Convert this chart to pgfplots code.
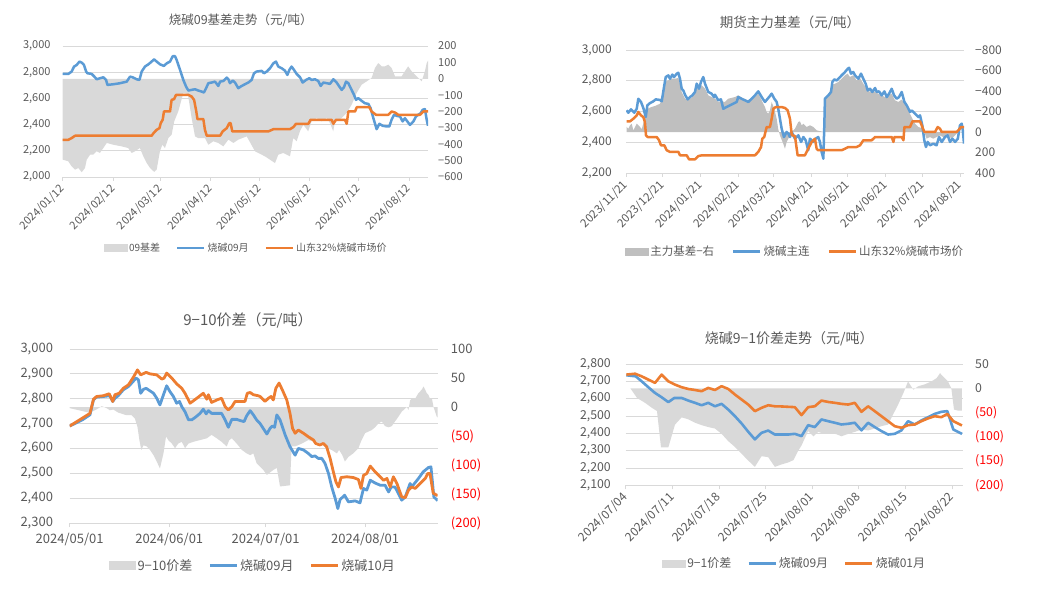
\documentclass[border=0pt]{standalone}
\usepackage{fontspec}
\setmainfont{Noto Sans CJK SC}
\usepackage{pgfplots}
\pgfplotsset{compat=1.18}
\definecolor{txt}{HTML}{595959}
\definecolor{gridc}{HTML}{D9D9D9}
\definecolor{ablue}{HTML}{5B9BD5}
\definecolor{aorange}{HTML}{ED7D31}
\definecolor{agray}{HTML}{D9D9D9}
\definecolor{agrayB}{HTML}{BFBFBF}
\definecolor{neg}{HTML}{FF0000}
\newcommand\fs[1]{\fontsize{#1}{#1}\selectfont}
\pgfplotsset{
 gridax/.style={scale only axis, anchor=south west,
   axis x line*=bottom, axis y line*=left,
   x axis line style={-, draw=gridc, line width=0.8pt},
   y axis line style={draw=none},
   xtick style={draw=gridc, line width=0.8pt},
   ytick style={draw=none},
   tick align=outside, major tick length=4pt,
   ymajorgrids, grid style={draw=gridc, line width=0.8pt},
   yticklabel style={text=txt, inner sep=0pt, anchor=east},
   xticklabel style={text=txt},
   title style={text=txt},
   /pgf/number format/assume math mode=true},
 rightax/.style={scale only axis, anchor=south west, axis x line=none, axis y line*=right,
   y axis line style={draw=none}, ytick style={draw=none},
   yticklabel style={text=txt, inner sep=0pt, anchor=west},
   /pgf/number format/assume math mode=true},
 lineax/.style={scale only axis, anchor=south west, hide axis,
   legend image code/.code={\draw[##1] (0pt,0pt) -- (27pt,0pt);},
   legend style={draw=none, fill=none, anchor=center, text=txt},
   legend columns=3},
}
\begin{document}
\begin{tikzpicture}
\path[use as bounding box] (0pt,0pt) rectangle (1039pt,598pt);

% ================= Chart 1 =================
\begin{axis}[gridax, at={(62.7pt,421pt)}, width=365.3pt, height=131pt,
  xmin=0, xmax=224.7, ymin=2000, ymax=3000,
  xtick={0,31,60,91,121,152,182,213},
  xticklabels={2024/01/12,2024/02/12,2024/03/12,2024/04/12,2024/05/12,2024/06/12,2024/07/12,2024/08/12},
  xticklabel style={font=\fs{11}, inner sep=0pt, yshift=-6pt, rotate=45, anchor=east},
  ytick={2000,2200,...,3000},
  yticklabels={{2,000},{2,200},{2,400},{2,600},{2,800},{3,000}},
  yticklabel style={font=\fs{11}, xshift=-8pt},
  title={烧碱09基差走势（元/吨）},
  title style={font=\fs{12.5}, at={(0.5,1)}, anchor=center, yshift=20pt, xshift=-4.6pt}]
\end{axis}
\begin{axis}[rightax, at={(62.7pt,421pt)}, width=365.3pt, height=131pt,
  xmin=0, xmax=224.7, ymin=-600, ymax=200,
  ytick={-600,-500,...,200},
  yticklabels={−600,−500,−400,−300,−200,−100,0,100,200},
  yticklabel style={font=\fs{11}, xshift=10pt}]
\addplot[fill=agray, draw=none] coordinates {(0,-494)(3.4,-504)(5.5,-535)(7.6,-555)(9.6,-545)(11.7,-571)(13.7,-545)(14.8,-494)(16.8,-464)(18.8,-464)(20.9,-443)(22.9,-453)(25,-423)(27.1,-392)(31.1,-403)(36.3,-413)(40.3,-423)(42.4,-453)(44.5,-443)(47.5,-423)(49.6,-474)(51.7,-515)(53.7,-545)(56.3,-569)(57.8,-555)(59.8,-443)(61.3,-403)(62.9,-423)(65,-362)(67,-342)(68.6,-260)(71.1,-199)(74.2,-87)(77,-93)(79.3,-240)(81.4,-352)(83.4,-362)(87.5,-362)(89.6,-403)(92.6,-382)(95.7,-392)(98.8,-413)(101.9,-372)(105,-392)(108,-372)(113.2,-352)(118.3,-443)(124.4,-474)(130.6,-515)(132.6,-464)(135.7,-453)(139.8,-474)(141.8,-362)(143.9,-382)(145.9,-321)(148,-281)(151,-321)(153.1,-260)(156.2,-240)(159.3,-260)(162.4,-240)(164.4,-270)(166.4,-321)(167.5,-260)(171.6,-240)(174.7,-209)(177.7,-159)(180.8,-87)(183.9,-36)(187,-16)(190,5)(192.1,66)(194.1,96)(196.2,76)(198.2,76)(200.3,86)(202.3,66)(204.4,15)(208.5,15)(210.5,46)(212.5,76)(214.6,46)(216.7,25)(218.7,5)(220.8,-16)(222.8,46)(223.9,96)(224.7,110)} \closedcycle;
\end{axis}
\begin{axis}[lineax, at={(62.7pt,421pt)}, width=365.3pt, height=131pt,
  xmin=0, xmax=224.7, ymin=2000, ymax=3000,
  legend style={at={(0.502,-0.542)}, font=\fs{10}, /tikz/every even column/.append style={column sep=14pt}}]
\addlegendimage{legend image code/.code={\fill[agray] (0pt,-3.5pt) rectangle (23pt,3.5pt);}}
\addlegendentry{09基差}
\addplot[ablue, line width=2.5pt, line join=round] coordinates {(0,2787)(3.5,2787)(5.5,2805)(7,2843)(8.6,2855)(10.3,2881)(11.7,2873)(13.1,2855)(14.4,2805)(15.2,2792)(17.8,2787)(19.5,2766)(20.9,2746)(23,2754)(25,2761)(26.7,2741)(27.5,2703)(31.2,2708)(35.3,2716)(39.4,2728)(41.4,2766)(43,2761)(45.5,2746)(47.2,2741)(48.6,2805)(50.6,2843)(52.7,2860)(54.7,2881)(56.2,2898)(57.8,2881)(59.9,2860)(62.3,2848)(64,2868)(66,2881)(67.7,2922)(69.1,2922)(70.1,2893)(72.2,2817)(74.2,2741)(75.9,2690)(77.3,2660)(79.3,2665)(81.4,2670)(83.4,2660)(85.5,2652)(86.9,2645)(88.2,2678)(89.6,2716)(91.6,2721)(93.7,2728)(95.7,2695)(96.8,2728)(98.8,2733)(100.9,2759)(101.9,2746)(102.9,2716)(104.6,2736)(106,2721)(108,2678)(110.1,2695)(112.1,2708)(114.2,2721)(116.2,2741)(117.7,2792)(119.3,2805)(122.4,2810)(123.8,2792)(125.5,2805)(127.5,2830)(129.6,2868)(131.2,2881)(132.6,2843)(134.7,2830)(136.7,2812)(138.2,2779)(139.4,2817)(140.8,2843)(142.3,2817)(143.9,2787)(146,2761)(147.6,2721)(149.7,2741)(151.7,2754)(153.1,2741)(155.2,2746)(157.2,2733)(158.7,2695)(160.3,2721)(162.4,2716)(164.4,2711)(166.5,2746)(168.5,2721)(170.2,2690)(171.6,2665)(173,2685)(174.3,2728)(175.7,2716)(177.7,2665)(179.2,2627)(180.4,2589)(181.8,2602)(183.9,2581)(185.9,2563)(188,2558)(189.4,2525)(191.1,2449)(193.1,2365)(194.8,2406)(196.8,2391)(199.3,2386)(200.9,2386)(202.3,2437)(203.8,2475)(205.4,2467)(207.5,2462)(209.1,2424)(210.5,2449)(212,2424)(213.6,2398)(215.7,2424)(217.3,2462)(218.7,2475)(220.2,2487)(221.4,2513)(222.8,2518)(223.9,2437)(224.7,2391)};
\addlegendentry{烧碱09月}
\addplot[aorange, line width=2.5pt, line join=round] coordinates {(0,2284)(3.5,2284)(5.5,2297)(7.6,2315)(54.7,2315)(56.2,2340)(57.8,2360)(59.5,2373)(60.3,2411)(61.5,2437)(62.3,2500)(66,2500)(67,2589)(68.5,2594)(69.7,2627)(77.3,2627)(79.3,2614)(80.8,2589)(82,2513)(82.9,2442)(86.5,2442)(87.5,2360)(88.6,2315)(96.8,2315)(98.4,2348)(100.9,2373)(102.5,2411)(103.3,2411)(104.3,2348)(126.5,2348)(129.6,2365)(139.8,2365)(141.9,2381)(143.5,2406)(151.1,2406)(152.5,2437)(165.4,2437)(166.5,2406)(168.1,2437)(173.6,2437)(174.7,2406)(175.7,2500)(179.8,2500)(180.9,2533)(188.6,2533)(190,2500)(192.7,2475)(200.3,2475)(202.3,2500)(204.4,2492)(206.4,2475)(219.8,2475)(221.8,2500)(224.7,2500)};
\addlegendentry{山东32\%烧碱市场价}
\end{axis}

% ================= Chart 2 =================
\begin{axis}[gridax, at={(626pt,425pt)}, width=338pt, height=123pt,
  xmin=0, xmax=277.3, ymin=2200, ymax=3000,
  xtick={0,30,61,92,121,152,182,213,243,274},
  xticklabels={2023/11/21,2023/12/21,2024/01/21,2024/02/21,2024/03/21,2024/04/21,2024/05/21,2024/06/21,2024/07/21,2024/08/21},
  xticklabel style={font=\fs{11.5}, inner sep=0pt, yshift=-6pt, rotate=45, anchor=east},
  ytick={2200,2400,...,3000},
  yticklabels={{2,200},{2,400},{2,600},{2,800},{3,000}},
  yticklabel style={font=\fs{12}, xshift=-10pt},
  title={期货主力基差（元/吨）},
  title style={font=\fs{13.5}, at={(0.5,1)}, anchor=center, yshift=20.7pt, xshift=-5pt}]
\end{axis}
\begin{axis}[rightax, at={(626pt,425pt)}, width=338pt, height=123pt,
  xmin=0, xmax=277.3, ymin=-800, ymax=400, y dir=reverse,
  ytick={-800,-600,...,400},
  yticklabels={−800,−600,−400,−200,0,200,400},
  yticklabel style={font=\fs{12}, xshift=11pt}]
\addplot[fill=agrayB, draw=none] coordinates {(0.6,-49)(1.9,-33)(3.3,-65)(4.7,-81)(6,-16)(8.8,-81)(11.5,-49)(12.9,-27)(15.6,-146)(17.5,-227)(21,-244)(23.8,-254)(27.9,-276)(30.6,-358)(32,-488)(34.7,-504)(37.4,-520)(40.2,-520)(42.9,-527)(44.3,-472)(45.7,-390)(48.4,-325)(51.1,-309)(54.4,-341)(56.6,-390)(59.3,-439)(62.1,-456)(64.8,-423)(67.5,-358)(70.3,-341)(73,-325)(75.7,-293)(78.5,-300)(81.2,-293)(83.9,-325)(89.4,-341)(92.1,-358)(96.2,-325)(100.3,-309)(105.8,-341)(108.5,-374)(111.3,-309)(114,-244)(115.4,-195)(116.7,-179)(118.1,-211)(119.5,-293)(121.6,-227)(123.6,-130)(124.9,-27)(126.3,33)(129,114)(130.4,163)(131.8,98)(133.2,66)(135.9,0)(138.6,-33)(141.4,-98)(142.7,-104)(144.1,-65)(145.5,-81)(148.2,-49)(150.9,-65)(153.7,-49)(155,-33)(156.4,-16)(160.5,-5)(162.7,0)(163.8,-325)(166,-341)(168.7,-456)(171.5,-472)(174.2,-488)(176.9,-520)(179.6,-553)(181.8,-569)(183.7,-537)(186.5,-553)(189.2,-504)(191.9,-527)(194.7,-472)(197.4,-423)(200.2,-390)(202.1,-407)(204.3,-390)(207,-374)(209.7,-358)(212.5,-341)(215.2,-358)(217.9,-374)(220.7,-309)(223.4,-293)(226.1,-316)(228.9,-276)(231.6,-211)(234.3,-146)(237.1,-81)(239.8,-49)(242.5,-39)(244.7,-5)(246.6,65)(249.4,49)(252.1,65)(254.8,49)(257.6,33)(260.3,49)(264.4,33)(267.1,65)(269.9,33)(272.6,0)(275.3,5)(277.3,0)} \closedcycle;
\end{axis}
\begin{axis}[lineax, at={(626pt,425pt)}, width=338pt, height=123pt,
  xmin=0, xmax=277.3, ymin=2200, ymax=3000,
  legend style={at={(0.5,-0.64)}, font=\fs{11.5}, /tikz/every even column/.append style={column sep=16pt}}]
\addlegendimage{legend image code/.code={\fill[agrayB] (0pt,-3.5pt) rectangle (23pt,3.5pt);}}
\addlegendentry{主力基差−右}
\addplot[ablue, line width=2.5pt, line join=round] coordinates {(0.5,2608)(1.9,2592)(4.1,2614)(6.8,2592)(8.8,2618)(10.1,2683)(12.3,2662)(14.2,2623)(16.2,2564)(17.5,2640)(19.7,2655)(22.4,2666)(24.4,2679)(27.9,2675)(29.3,2666)(31.4,2770)(32.6,2824)(34.7,2835)(36.1,2813)(38,2840)(39.4,2824)(41.6,2846)(42.9,2852)(44.3,2813)(45.7,2748)(47,2737)(48.4,2709)(50.6,2679)(52.5,2694)(54.4,2705)(56.6,2727)(58,2781)(59.9,2748)(61.5,2792)(63.4,2824)(64.8,2781)(67.5,2727)(70.2,2716)(72.2,2694)(73,2709)(75.7,2673)(77.9,2679)(79.8,2618)(82.5,2629)(85.3,2640)(88,2651)(90.8,2662)(92.1,2694)(94.8,2683)(97.5,2673)(100.3,2662)(103,2683)(105.8,2705)(108.5,2731)(111.3,2694)(114,2662)(116.2,2683)(118.1,2701)(119.5,2716)(121.7,2683)(123.6,2662)(124.9,2618)(126.3,2553)(127.7,2488)(129.6,2434)(131.8,2467)(133.2,2456)(134.5,2434)(135.9,2467)(138.6,2423)(141.4,2445)(143.6,2402)(145.5,2434)(147.4,2413)(149.5,2348)(150.9,2423)(153.6,2402)(155.5,2423)(157.7,2434)(159.1,2402)(160.5,2337)(161.9,2293)(162.7,2510)(163.2,2683)(166,2705)(168.2,2727)(169.3,2792)(170.9,2809)(172.8,2802)(174.2,2813)(176.9,2835)(179.7,2857)(181.9,2878)(183,2884)(184.6,2846)(186.5,2857)(187.9,2835)(190.6,2813)(192.8,2846)(194.7,2813)(196.6,2781)(198.3,2737)(200.2,2748)(202.1,2727)(204.3,2753)(205.7,2727)(207.6,2731)(209.8,2705)(212,2731)(213.9,2694)(215.8,2716)(218,2748)(219.9,2705)(222.1,2683)(224,2694)(226.2,2727)(228.4,2662)(230.3,2640)(231.7,2618)(233,2597)(234.4,2607)(237.1,2586)(239.8,2564)(241.2,2575)(243.1,2510)(244.7,2413)(246.1,2369)(247.5,2402)(249.4,2380)(252.1,2391)(254.8,2380)(256.8,2434)(259,2402)(261.7,2434)(263.9,2445)(265.8,2402)(267.8,2423)(270,2402)(272.2,2423)(274,2510)(275.4,2521)(276.3,2478)(277.3,2391)};
\addlegendentry{烧碱主连}
\addplot[aorange, line width=2.5pt, line join=round] coordinates {(0.5,2536)(3.3,2536)(6,2553)(8.8,2575)(10.1,2597)(12.3,2575)(14.2,2564)(15.5,2532)(16.4,2445)(17.8,2434)(25.2,2434)(27.1,2413)(28.7,2380)(31.4,2380)(33.4,2348)(36.1,2337)(43,2337)(44.3,2315)(49.8,2315)(51.7,2289)(56.6,2289)(59.4,2310)(62.1,2315)(105.8,2315)(108.5,2337)(110.8,2369)(111.8,2423)(113.4,2434)(115.4,2499)(118.1,2499)(119.5,2553)(120.9,2618)(122.8,2629)(127.7,2629)(130.4,2623)(132.6,2608)(134.5,2553)(136,2447)(138.6,2440)(140.8,2315)(146.8,2315)(149.5,2358)(152.3,2402)(155,2423)(156.4,2358)(157.7,2348)(176.9,2348)(179.7,2358)(182.4,2369)(189.2,2369)(192,2380)(194.7,2413)(201.6,2413)(204.3,2434)(218,2434)(219.4,2402)(220.2,2434)(226.2,2434)(227.6,2413)(228.4,2499)(233,2499)(235,2536)(241.2,2536)(242.6,2510)(244.7,2467)(253.5,2467)(255.7,2499)(257.6,2488)(259,2467)(271.3,2467)(272.7,2478)(274.9,2499)(277.3,2499)};
\addlegendentry{山东32\%烧碱市场价}
\end{axis}

% ================= Chart 3 =================
\begin{axis}[gridax, at={(69.7pt,75pt)}, width=368pt, height=174pt,
  xmin=0, xmax=114.6, ymin=2300, ymax=3000,
  xtick={0,31,61,92},
  xticklabels={2024/05/01,2024/06/01,2024/07/01,2024/08/01},
  xticklabel style={font=\fs{13}, inner sep=0pt, anchor=north, yshift=-6pt},
  ytick={2300,2400,...,3000},
  yticklabels={{2,300},{2,400},{2,500},{2,600},{2,700},{2,800},{2,900},{3,000}},
  yticklabel style={font=\fs{13}, xshift=-12.5pt},
  title={9−10价差（元/吨）},
  title style={font=\fs{15}, at={(0.5,1)}, anchor=center, yshift=22.3pt, xshift=-5.7pt}]
\end{axis}
\begin{axis}[rightax, at={(69.7pt,75pt)}, width=368pt, height=174pt,
  xmin=0, xmax=114.6, ymin=-200, ymax=100,
  ytick={-200,-150,...,100},
  yticklabels={{\color{neg}(200)},{\color{neg}(150)},{\color{neg}(100)},{\color{neg}(50)},0,50,100},
  yticklabel style={font=\fs{13}, xshift=13pt}]
\addplot[fill=agray, draw=none] coordinates {(0,-2)(6.3,-10)(8.4,-4)(10,1.4)(11.5,-2)(12.5,-5.6)(13.6,-4.4)(15.1,-9.6)(16.7,-12.5)(17.7,-14.2)(19.3,-14.2)(20.3,-20)(21.1,-34)(21.7,-57)(22.3,-74)(23,-66)(24,-68)(25,-74)(26.1,-83)(27.1,-94)(28.1,-106)(29.2,-80)(30,-51)(30.7,-57)(31.8,-63)(32.8,-71)(33.8,-63)(34.9,-60)(35.9,-71)(37,-63)(38.5,-60)(40.6,-57)(42.7,-54)(44.2,-48)(45.8,-54)(47.3,-60)(48.9,-68)(49.7,-57)(50.5,-54)(52,-63)(53.6,-74)(55.1,-80)(56.2,-83)(57.2,-80)(58.2,-97)(59.3,-103)(60.3,-108.6)(61.4,-117)(63.4,-108.6)(64.5,-105)(65.5,-137)(68.6,-135)(69.1,-68)(70.2,-68)(72.3,-63)(74.3,-57)(76.4,-60)(78.5,-63)(80,-71)(81.6,-74)(83.2,-80)(83.9,-74)(84.9,-83)(85.7,-94)(86.8,-86)(88.3,-80)(89.9,-71)(90.9,-57)(92,-45)(93,-42.5)(94.1,-39.6)(95.1,-35)(96.2,-28)(97.2,-25)(98.2,-33)(99.3,-35)(100.3,-33)(101.3,-25)(102.4,-16.5)(103.4,-8)(105,0)(105.5,-5)(106,11.5)(106.5,14.5)(107.6,14.5)(108.6,24)(109.6,29.6)(110.2,35.4)(110.7,29.6)(111.2,24)(111.7,21)(112.2,14.5)(112.8,14.5)(113.3,0)(114.3,-16.5)(114.6,-18)} \closedcycle;
\end{axis}
\begin{axis}[lineax, at={(69.7pt,75pt)}, width=368pt, height=174pt,
  xmin=0, xmax=114.6, ymin=2300, ymax=3000,
  legend style={at={(0.498,-0.245)}, font=\fs{13}, /tikz/every even column/.append style={column sep=14pt}}]
\addlegendimage{legend image code/.code={\fill[agray] (0pt,-4pt) rectangle (26pt,4pt);}}
\addlegendentry{9−10价差}
\addplot[ablue, line width=2.8pt, line join=round] coordinates {(0,2690)(2.2,2704)(4.2,2717)(5.8,2731)(6.3,2735)(7.4,2795)(8.2,2806)(10.5,2809)(12.5,2812)(13.4,2789)(14.1,2802)(15.1,2812)(16.7,2836)(18.3,2849)(19.3,2863)(20.7,2883)(21.4,2876)(22.1,2822)(23,2838)(23.8,2842)(24.5,2836)(26.1,2822)(27.1,2802)(28.1,2775)(29.2,2816)(30.2,2852)(31.2,2829)(32.3,2809)(33.3,2782)(34.2,2789)(34.9,2768)(35.9,2748)(37,2715)(38,2715)(39.1,2725)(40.6,2741)(41.6,2758)(42.5,2739)(43.2,2752)(44.2,2741)(45.8,2741)(47.3,2741)(48.4,2715)(49.4,2685)(50.5,2717)(52,2717)(53.1,2712)(54.3,2708)(55.1,2731)(56.2,2752)(57.2,2735)(58.2,2715)(59.3,2700)(61.4,2658)(62.4,2681)(63.1,2690)(63.8,2685)(64.5,2735)(65.5,2715)(67.1,2654)(68.6,2607)(70.2,2573)(71.2,2600)(72.8,2594)(74.3,2580)(75.4,2567)(76.4,2570)(77.4,2560)(78.5,2560)(79.5,2540)(80.6,2499)(81.6,2445)(82.7,2398)(83.5,2358)(84.2,2394)(85.6,2412)(86.8,2385)(88.9,2389)(90.4,2381)(91.5,2439)(92.5,2432)(93.6,2472)(95.1,2461)(96.7,2452)(98.2,2452)(99.3,2425)(100.1,2445)(101.3,2445)(102.4,2418)(103.4,2392)(104.5,2405)(106,2459)(106.5,2445)(108.6,2479)(110.1,2506)(111.7,2523)(112.5,2526)(113.4,2405)(114.6,2390)};
\addlegendentry{烧碱09月}
\addplot[aorange, line width=2.8pt, line join=round] coordinates {(0,2690)(6.3,2741)(7.4,2798)(8.4,2809)(10.5,2812)(12.3,2820)(13.4,2789)(14.1,2816)(15.4,2822)(16.7,2842)(18.3,2856)(20,2890)(21.1,2916)(22.1,2896)(23.8,2906)(25,2900)(27.1,2896)(28.7,2879)(29.4,2883)(30.2,2903)(31.8,2883)(33.3,2860)(34.9,2842)(35.9,2822)(37.5,2782)(39.6,2802)(41.6,2822)(42.7,2798)(43.2,2816)(44.2,2785)(45.8,2795)(47.3,2802)(48.4,2768)(49.4,2755)(50.5,2768)(51.5,2789)(54.6,2789)(55.3,2822)(56.2,2825)(57.2,2816)(58.7,2812)(59.3,2809)(60.8,2789)(61.9,2802)(62.7,2809)(63.4,2795)(64.2,2842)(65.2,2863)(66.2,2836)(67.6,2795)(68.6,2741)(69.4,2681)(70.2,2661)(71.2,2674)(72.8,2661)(74.3,2647)(75.9,2634)(76.6,2620)(77.9,2614)(79,2620)(80,2607)(81.1,2560)(82.1,2506)(82.9,2466)(83.7,2445)(84.5,2483)(86.3,2486)(88.3,2483)(89.9,2475)(90.7,2439)(91.5,2492)(92.5,2499)(93.6,2529)(95.1,2506)(96.7,2486)(97.7,2472)(98.8,2479)(99.8,2445)(100.8,2486)(101.9,2459)(103.4,2405)(104.5,2402)(105.5,2432)(106.5,2445)(107.6,2439)(109.1,2459)(110.7,2479)(111.5,2499)(112.2,2499)(113.2,2420)(114.6,2410)};
\addlegendentry{烧碱10月}
\end{axis}

% ================= Chart 4 =================
\begin{axis}[gridax, at={(625.7pt,112.7pt)}, width=337.6pt, height=121.3pt,
  xmin=0, xmax=50.7, ymin=2100, ymax=2800,
  xtick={0,7,14,21,28,35,42,49},
  xticklabels={2024/07/04,2024/07/11,2024/07/18,2024/07/25,2024/08/01,2024/08/08,2024/08/15,2024/08/22},
  xticklabel style={font=\fs{12}, inner sep=0pt, yshift=-6pt, rotate=45, anchor=east},
  ytick={2100,2200,...,2800},
  yticklabels={{2,100},{2,200},{2,300},{2,400},{2,500},{2,600},{2,700},{2,800}},
  yticklabel style={font=\fs{12.3}, xshift=-10.7pt},
  title={烧碱9−1价差走势（元/吨）},
  title style={font=\fs{14}, at={(0.5,1)}, anchor=center, yshift=19.7pt, xshift=-5.2pt}]
\end{axis}
\begin{axis}[rightax, at={(625.7pt,112.7pt)}, width=337.6pt, height=121.3pt,
  xmin=0, xmax=50.7, ymin=-200, ymax=50,
  ytick={-200,-150,...,50},
  yticklabels={{\color{neg}(200)},{\color{neg}(150)},{\color{neg}(100)},{\color{neg}(50)},0,50},
  yticklabel style={font=\fs{12.3}, xshift=11.7pt}]
\addplot[fill=agray, draw=none] coordinates {(0.7,0)(1.7,-20)(2.9,-30)(3.9,-40)(4.7,-47)(5.3,-122)(6.4,-122)(7.4,-75)(8.4,-60)(9.4,-64)(10.4,-71)(11.4,-76)(12.4,-80)(13.4,-83)(14.4,-94)(15.4,-109)(16.4,-121)(17.4,-135)(18.4,-149)(19.4,-162)(20.4,-140)(21.4,-142)(22.4,-162)(23.4,-157)(24.4,-153)(25.2,-148)(25.9,-129)(26.4,-118)(27.4,-88)(28.2,-99)(28.9,-90)(29.9,-94)(30.9,-92)(31.7,-95)(32.4,-99)(33.4,-94)(34.4,-90)(35.4,-85)(36.4,-87)(37.4,-83)(38.4,-78)(39.4,-75)(39.9,-61)(40.9,-34)(41.7,-10)(42.4,14)(43.2,-3)(43.9,4)(44.9,8)(45.9,14)(46.7,21)(47.2,31)(47.9,21)(48.4,14)(48.9,0)(49.3,-44)(49.9,-46)(50.5,-46)} \closedcycle;
\end{axis}
\begin{axis}[lineax, at={(625.7pt,112.7pt)}, width=337.6pt, height=121.3pt,
  xmin=0, xmax=50.7, ymin=2100, ymax=2800,
  legend style={at={(0.5,-0.643)}, font=\fs{12}, /tikz/every even column/.append style={column sep=14pt}}]
\addlegendimage{legend image code/.code={\fill[agray] (0pt,-3.5pt) rectangle (23pt,3.5pt);}}
\addlegendentry{9−1价差}
\addplot[ablue, line width=2.6pt, line join=round] coordinates {(0.1,2735)(1.5,2729)(2.4,2700)(3.4,2666)(4.4,2633)(5.4,2608)(6.4,2580)(7.3,2604)(8.4,2604)(9.4,2589)(10.4,2576)(11.4,2562)(12.4,2576)(13.4,2556)(14.4,2570)(15.4,2537)(16.4,2499)(17.4,2457)(18.4,2409)(19.4,2365)(20.4,2403)(21.4,2416)(22.4,2393)(23.4,2393)(24.4,2393)(25.4,2397)(26.4,2384)(27.4,2447)(28.4,2436)(29.4,2480)(30.4,2470)(31.4,2461)(32.4,2451)(33.4,2455)(34.4,2461)(35.4,2417)(36.4,2461)(37.4,2436)(38.4,2413)(39.4,2393)(40.4,2397)(41.4,2417)(42.4,2470)(43.4,2451)(44.4,2474)(45.4,2493)(46.4,2512)(47.4,2524)(48.3,2528)(49.2,2422)(50.5,2397)};
\addlegendentry{烧碱09月}
\addplot[aorange, line width=2.6pt, line join=round] coordinates {(0.1,2739)(1.4,2744)(2.4,2729)(3.4,2710)(4.4,2691)(5.4,2739)(6.4,2700)(7.4,2681)(8.4,2666)(9.4,2656)(10.4,2650)(11.4,2643)(12.4,2662)(13.4,2650)(14.4,2672)(15.4,2656)(16.4,2624)(17.4,2595)(18.4,2566)(19.4,2528)(20.4,2547)(21.4,2562)(22.4,2556)(23.4,2555)(24.4,2553)(25.4,2551)(26.4,2505)(27.4,2551)(28.4,2556)(29.4,2589)(30.4,2581)(31.4,2576)(32.4,2570)(33.4,2566)(34.4,2576)(35.4,2524)(36.4,2556)(37.4,2528)(38.4,2499)(39.4,2470)(40.4,2441)(41.4,2432)(42.4,2447)(43.4,2451)(44.4,2470)(45.4,2486)(46.4,2499)(47.4,2493)(48.3,2512)(49.2,2470)(50.5,2445)};
\addlegendentry{烧碱01月}
\end{axis}
\end{tikzpicture}
\end{document}
